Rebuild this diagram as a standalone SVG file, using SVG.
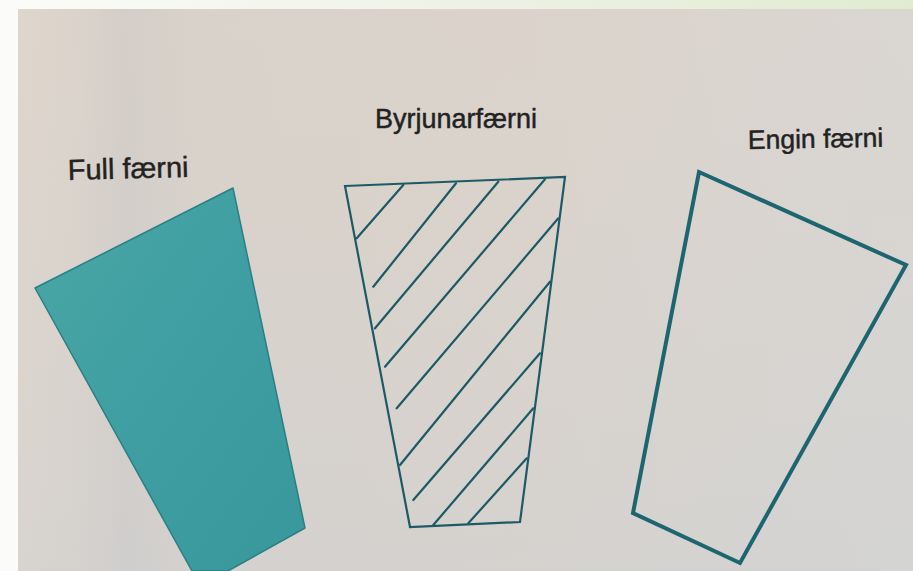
<svg xmlns="http://www.w3.org/2000/svg" width="913" height="571" viewBox="0 0 913 571">
  <defs>
    <linearGradient id="topStrip" x1="0" y1="0" x2="1" y2="0">
      <stop offset="0" stop-color="#fbfcf9"/>
      <stop offset="0.5" stop-color="#eef2e6"/>
      <stop offset="1" stop-color="#e1ebd1"/>
    </linearGradient>
    <linearGradient id="paper" x1="0" y1="0" x2="1" y2="0">
      <stop offset="0" stop-color="#ded6cd"/>
      <stop offset="0.07" stop-color="#dad3cc"/>
      <stop offset="0.12" stop-color="#d1ccc8"/>
      <stop offset="0.2" stop-color="#d8d2cb"/>
      <stop offset="0.55" stop-color="#dad3cc"/>
      <stop offset="1" stop-color="#d8d6d3"/>
    </linearGradient>
    <linearGradient id="paperShade" x1="0" y1="0" x2="0" y2="1">
      <stop offset="0" stop-color="#e0d4c8" stop-opacity="0.2"/>
      <stop offset="1" stop-color="#ccd0d4" stop-opacity="0.35"/>
    </linearGradient>
    <linearGradient id="tealFill" x1="0" y1="0" x2="1" y2="1">
      <stop offset="0" stop-color="#4ba7a6"/>
      <stop offset="0.5" stop-color="#3e9ea1"/>
      <stop offset="1" stop-color="#38989c"/>
    </linearGradient>
    <style>
      .label { font-family: "Liberation Sans", Arial, sans-serif; fill: #222222; stroke: #222222; stroke-width: 0.45; }
      .hatch { stroke: #1d5a66; stroke-width: 2.2; fill: none; stroke-linecap: round; }
    </style>
  </defs>

  <!-- page background -->
  <rect x="0" y="0" width="913" height="571" fill="#fbfcf9"/>
  <rect x="0" y="0" width="913" height="9" fill="url(#topStrip)"/>
  <rect x="18" y="9" width="895" height="562" fill="url(#paper)"/>
  <rect x="18" y="9" width="895" height="562" fill="url(#paperShade)"/>

  <!-- Full færni -->
  <g id="full-faerni">
    <polygon points="233,188 35,288 192,571 228,571 305,528" fill="url(#tealFill)" stroke="#2b7f84" stroke-width="1.5" stroke-linejoin="round"/>
    <text class="label" x="68" y="180" font-size="29" transform="rotate(-1.5 68 180)">Full færni</text>
  </g>

  <!-- Byrjunarfærni -->
  <g id="byrjunarfaerni">
    <polygon points="345,186 565,177 520,522 410,527" fill="none" stroke="#1d5a66" stroke-width="2.2" stroke-linejoin="miter"/>
    <line class="hatch" x1="356.7" y1="238.3" x2="403.3" y2="185"/>
    <line class="hatch" x1="373.3" y1="286.7" x2="456" y2="183.3"/>
    <line class="hatch" x1="375" y1="328.3" x2="498.3" y2="181.7"/>
    <line class="hatch" x1="385" y1="366.7" x2="545" y2="179.3"/>
    <line class="hatch" x1="396.7" y1="408.3" x2="558.3" y2="218.3"/>
    <line class="hatch" x1="400" y1="465" x2="550" y2="281.7"/>
    <line class="hatch" x1="413.3" y1="500" x2="540" y2="353.3"/>
    <line class="hatch" x1="433.3" y1="525" x2="533.3" y2="408.3"/>
    <line class="hatch" x1="468.3" y1="523.3" x2="526.7" y2="458.3"/>
    <text class="label" x="375" y="128" font-size="27">Byrjunarfærni</text>
  </g>

  <!-- Engin færni -->
  <g id="engin-faerni">
    <polygon points="699,172 906,265 740,563 633,513" fill="none" stroke="#1d6670" stroke-width="4" stroke-linejoin="miter"/>
    <text class="label" x="748" y="149" font-size="26.5" transform="rotate(-1 748 149)">Engin færni</text>
  </g>
</svg>
